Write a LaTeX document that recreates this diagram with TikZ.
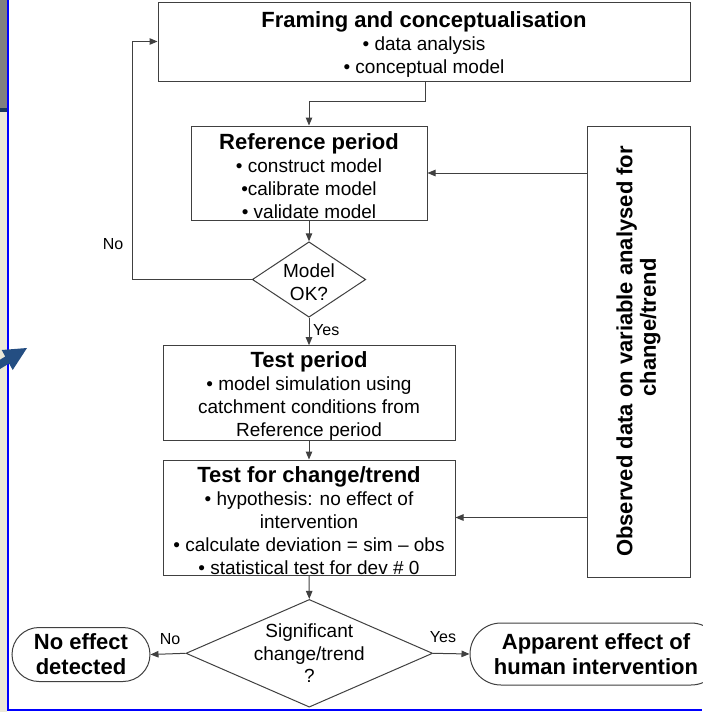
\documentclass[tikz,border=0pt]{standalone}
\usepackage{fontspec}
\setmainfont{Liberation Sans}
\usetikzlibrary{arrows.meta,shapes.geometric,calc}
\definecolor{linegray}{RGB}{64,64,64}
\definecolor{frameblue}{RGB}{0,0,255}
\definecolor{stripgray}{RGB}{128,128,128}
\definecolor{paneBeige}{RGB}{236,233,216}
\definecolor{arrowblue}{RGB}{36,78,130}
\newcommand\bodyfnt{\fontsize{19}{22.7}\selectfont}
\newcommand\titlefnt{\fontsize{22}{25}\selectfont\bfseries}
\newcommand\bigfnt{\fontsize{22}{25}\selectfont\bfseries}
\newcommand\ttl[1]{{\titlefnt\rule{0pt}{21.5pt}#1}}
\begin{document}
\begin{tikzpicture}[x=1pt,y=-1pt,
  stepbox/.style={draw=linegray, line width=1pt, fill=white, rectangle, align=center, inner sep=0pt, font=\bodyfnt},
  decision/.style={draw=linegray, line width=1pt, fill=white, diamond, inner sep=0pt},
  endbox/.style={draw=linegray, line width=1pt, fill=white, rectangle, align=center, inner sep=0pt, font=\bigfnt},
  txt/.style={align=center, inner sep=0pt, font=\bodyfnt},
  conn/.style={draw=linegray, line width=1pt, -{Triangle[length=8pt,width=6.5pt]}},
  lbl/.style={inner sep=0pt, font=\fontsize{16}{19}\selectfont}
]
\useasboundingbox (0,0) rectangle (702,712);
% window decorations
\fill[paneBeige] (0,0) rectangle (7,712);
\fill[stripgray] (0,0) rectangle (7,108);
\fill[arrowblue!70!black] (0,108) rectangle (7,112);
\draw[frameblue, line width=1.8pt] (7.6,0) -- (7.6,709.6) -- (702,709.6);
\fill[arrowblue] (0,359.7) -- (5.3,356.5) -- (1.7,350) -- (27,348) -- (12.7,370) -- (9.1,363.5) -- (0,369) -- cycle;

% boxes
\node[stepbox, minimum width=532, minimum height=79] (frame) at (424,41.5)
  {\ttl{Framing and conceptualisation}\\[1pt]• data analysis\\• conceptual model};
\node[stepbox, minimum width=236, minimum height=94] (ref) at (309,173)
  {\ttl{Reference period}\\[1pt]• construct model\\•calibrate model\\• validate model};
\node[decision, minimum width=113.4, minimum height=75.4] (d1) at (309,279.5) {};
\node[txt] (d1t) at ([yshift=-2.5pt]d1.center) {Model\\OK?};
\node[stepbox, minimum width=292, minimum height=94] (test) at (309,393)
  {\ttl{Test period}\\[1pt]• model simulation using\\catchment conditions from\\Reference period};
\node[stepbox, minimum width=292, minimum height=115] (tc) at (309,517.5)
  {\ttl{Test for change/trend}\\[1pt]• hypothesis: no effect of\\intervention\\• calculate deviation = sim – obs\\• statistical test for dev \# 0};
\node[decision, minimum width=246.7, minimum height=107.7] (d2) at (309.3,653.3) {};
\node[txt] (d2t) at (d2.center) {Significant\\change/trend\\?};
\node[endbox, rounded corners=27pt, minimum width=138, minimum height=54] (noeff) at (81,654.5)
  {No effect\\detected};
\node[endbox, rounded corners=31pt, minimum width=252, minimum height=62] (app) at (596,654)
  {Apparent effect of\\human intervention};
\node[stepbox, minimum width=103, minimum height=451] (obs) at (638.5,351.5) {};
\node[align=center, inner sep=0pt, rotate=90, font=\fontsize{22}{23.5}\selectfont\bfseries] (obst) at (obs.center)
  {Observed data on variable analysed for\\\hspace*{48pt}change/trend};

% connectors
\draw[conn] ([xshift=1.7pt]frame.south) -- ++(0,20) -| (ref.north);
\draw[conn] (ref.south) -- (d1.north);
\draw[conn] (d1.west) -- ++(-119,0) |- (frame.west);
\node[lbl] (nolbl1) at (113,244) {No};
\draw[conn] (d1.south) -- (test.north);
\node[lbl, anchor=west] (yeslbl1) at (313,330) {Yes};
\draw[conn] (test.south) -- (tc.north);
\draw[conn] (tc.south) -- (d2.north);
\draw[conn] (obs.west |- ref.east) -- (ref.east);
\draw[conn] (obs.west |- tc.east) -- (tc.east);
\draw[conn] (d2.west) -- (noeff.east);
\node[lbl] (nolbl2) at (170,639) {No};
\draw[conn] (d2.east) -- (app.west);
\node[lbl] (yeslbl2) at (443,637) {Yes};
\end{tikzpicture}
\end{document}
